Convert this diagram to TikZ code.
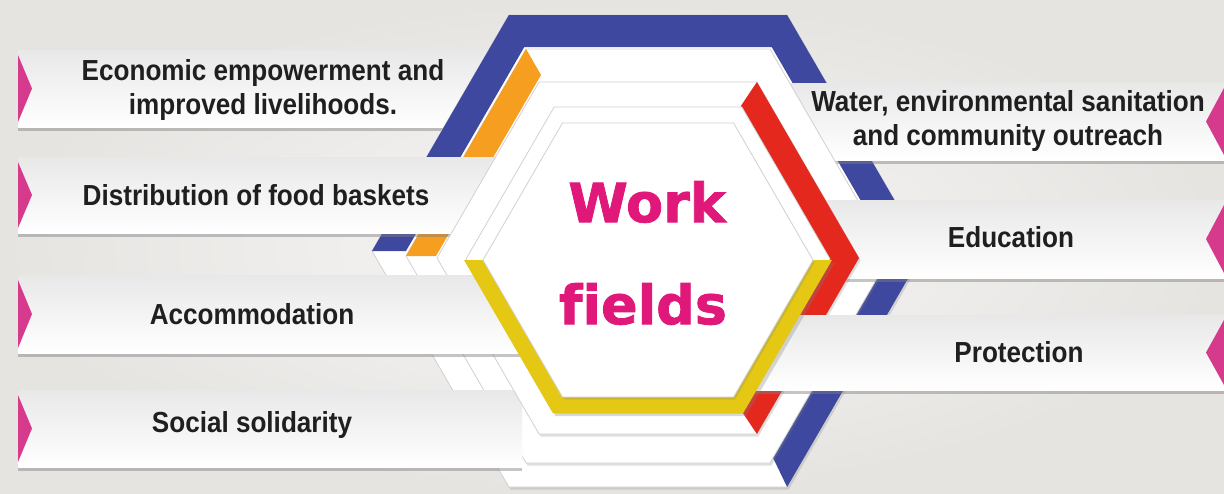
\documentclass[tikz,border=0pt]{standalone}
\usepackage{fontspec}
\setmainfont{Liberation Sans}
\newfontfamily\boxfont{Liberation Sans}[FakeStretch=0.9]
\newfontfamily\headfont{DejaVu Sans}[Ligatures=NoCommon, BoldFeatures={FakeBold=1.5}]
\usepackage{tikz}
\usetikzlibrary{shadows}

\definecolor{frameblue}{RGB}{62,72,158}
\definecolor{frameorange}{RGB}{245,158,32}
\definecolor{framered}{RGB}{228,40,30}
\definecolor{frameyellow}{RGB}{228,200,20}
\definecolor{headpink}{RGB}{224,24,122}
\definecolor{tabpink}{RGB}{214,58,140}
\definecolor{bggray}{RGB}{230,228,225}

% hexagon corners: name, centre x, centre y, half width, half height
\newcommand{\hexat}[5]{%
  \coordinate (#1-l)  at (#2-#4,#3);
  \coordinate (#1-tl) at (#2-#4+0.58*#5,#3-#5);
  \coordinate (#1-tr) at (#2+#4-0.58*#5,#3-#5);
  \coordinate (#1-r)  at (#2+#4,#3);
  \coordinate (#1-br) at (#2+#4-0.58*#5,#3+#5);
  \coordinate (#1-bl) at (#2-#4+0.58*#5,#3+#5);}
\newcommand{\hexcycle}[1]{(#1-l) -- (#1-tl) -- (#1-tr) -- (#1-r) -- (#1-br) -- (#1-bl) -- cycle}

\begin{document}
\begin{tikzpicture}[
        x=1pt, y=-1pt,
        pagehex/.style={fill=white, draw=black!18, line width=0.8pt,
          drop shadow={opacity=0.25, shadow xshift=1.5pt, shadow yshift=-2.5pt}},
        fieldbox/.style={top color=black!9, bottom color=white,
          drop shadow={opacity=0.45, shadow xshift=0pt, shadow yshift=-3.5pt}},
        tabmark/.style={fill=tabpink},
        fieldtext/.style={font=\boxfont\bfseries\fontsize{29}{34}\selectfont, align=center, text=black!88},
        headtext/.style={font=\headfont\bfseries\fontsize{54}{60}\selectfont, text=headpink}
      ]
      \useasboundingbox (0,0) rectangle (1224,493);
      \shade[inner color=white!70!bggray, outer color=bggray] (0,0) rectangle (1224,493);

      % box behind everything
      \path[fieldbox] (18,50) rectangle (520,127);
      \fill[tabmark] (18,55) -- (32,88.5) -- (18,122) -- cycle;

      % blue frame
      \hexat{p1}{648}{251}{276}{236}
      \hexat{p1i}{648}{251}{242}{204}
      \path[pagehex] \hexcycle{p1};
      \fill[frameblue] (p1-l) -- (p1-tl) -- (p1-tr) -- (p1-r) -- (p1-br)
        -- (p1i-br) -- (p1i-r) -- (p1i-tr) -- (p1i-tl) -- (p1i-l) -- cycle;

      \path[fieldbox] (780,83) rectangle (1224,160);
      \fill[tabmark] (1224,88) -- (1206,121.5) -- (1224,155) -- cycle;

      % orange page
      \hexat{p2}{648}{256}{242}{207}
      \hexat{p2i}{648}{256}{212}{181}
      \path[pagehex] \hexcycle{p2};
      \fill[frameorange] (p2-l) -- (p2-tl) -- (p2i-tl) -- (p2i-l) -- cycle;

      \path[fieldbox] (18,157) rectangle (505,233);
      \fill[tabmark] (18,162) -- (32,195) -- (18,228) -- cycle;
      \path[fieldbox] (18,390) rectangle (522,467);
      \fill[tabmark] (18,395) -- (32,428.5) -- (18,462) -- cycle;
      \path[fieldbox] (815,200) rectangle (1224,278);
      \fill[tabmark] (1224,205) -- (1206,239) -- (1224,273) -- cycle;

      % red page
      \hexat{p3}{648}{258}{211}{176}
      \hexat{p3i}{648}{258}{181}{152}
      \path[pagehex] \hexcycle{p3};
      \fill[framered] (p3-tr) -- (p3-r) -- (p3-br) -- (p3i-br) -- (p3i-r) -- (p3i-tr) -- cycle;

      \hexat{p4}{648}{259}{182}{152}
      \path[pagehex] \hexcycle{p4};

      \path[fieldbox] (18,275) rectangle (540,353);
      \fill[tabmark] (18,280) -- (32,314) -- (18,348) -- cycle;
      \path[fieldbox] (750,315) rectangle (1224,390);
      \fill[tabmark] (1224,320) -- (1206,352.5) -- (1224,385) -- cycle;

      % front hexagon
      \hexat{yf}{648}{260}{184}{153}
      \hexat{fr}{648}{260}{165}{137}
      \fill[frameyellow, drop shadow={opacity=0.3, shadow yshift=-3pt}]
        (yf-l) -- (yf-bl) -- (yf-br) -- (yf-r) -- (fr-r) -- (fr-br) -- (fr-bl) -- (fr-l) -- cycle;
      \path[pagehex] \hexcycle{fr};

      \node[headtext] (work) at (647,202) {Work};
      \node[headtext] (fields) at (643,304) {fields};

      \node[fieldtext] (econ) at (263,90) {Economic empowerment and\\improved livelihoods.};
      \node[fieldtext] (food) at (256,195) {Distribution of food baskets};
      \node[fieldtext] (accom) at (252,314) {Accommodation};
      \node[fieldtext] (social) at (252,425) {Social solidarity};
      \node[fieldtext] (water) at (1008,121) {Water, environmental sanitation\\and community outreach};
      \node[fieldtext] (edu) at (1011,237) {Education};
      \node[fieldtext] (prot) at (1019,352) {Protection};
      \end{tikzpicture}
\end{document}
